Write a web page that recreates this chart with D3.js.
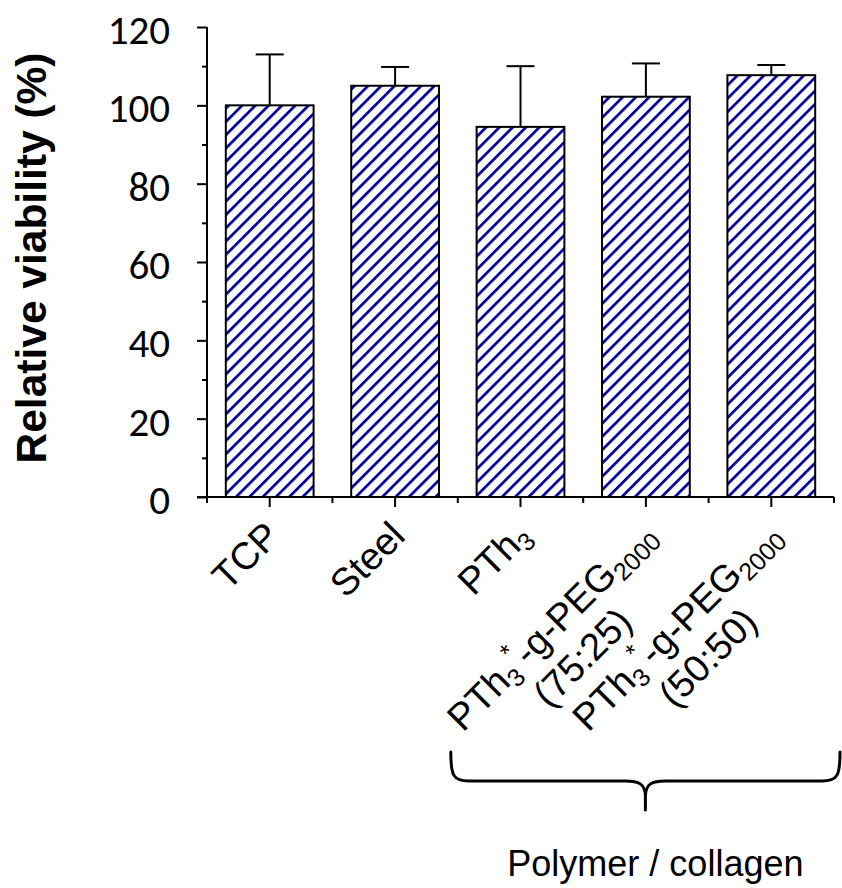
<!DOCTYPE html>
<html>
<head>
<meta charset="utf-8">
<script src="https://cdn.jsdelivr.net/npm/d3@7"></script>
<style>
  html, body { margin: 0; padding: 0; background: #fff; }
  svg { display: block; }
</style>
</head>
<body>
<div id="chart"></div>
<script>
// Cell viability on the different substrates (mean with upper SD bar)
const categories = ["TCP", "Steel", "PTh3", "PTh3-PEG 75:25", "PTh3-PEG 50:50"];
const viability = [100, 105, 94.5, 102.2, 107.7];
const errorUp = [13, 4.8, 15.5, 8.5, 2.6];
const yTicks = [0, 20, 40, 60, 80, 100, 120];
const yMinorTicks = [10, 30, 50, 70, 90, 110];
// Axis labels, line by line; each segment is [text, "n" | "sub" | "sup"]
const categoryLabels = [
  [[["TCP", "n"]]],
  [[["Steel", "n"]]],
  [[["PTh", "n"], ["3", "sub"]]],
  [[["PTh", "n"], ["3", "sub"], ["*", "sup"], ["-g-PEG", "n"], ["2000", "sub"]], [["(75:25)", "n"]]],
  [[["PTh", "n"], ["3", "sub"], ["*", "sup"], ["-g-PEG", "n"], ["2000", "sub"]], [["(50:50)", "n"]]]
];
const groupSpan = ["PTh3", "PTh3-PEG 50:50"];
const groupLabel = "Polymer / collagen";
const yTitle = "Relative viability (%)";

const W = 842, H = 888;
const svg = d3.select("#chart").append("svg").attr("width", W).attr("height", H);

const x = d3.scaleBand().domain(categories).range([207, 834])
  .paddingInner(0.3).paddingOuter(0.15);
const y = d3.scaleLinear().domain([0, 120]).range([497, 27]);

// diagonal hatch fill
const defs = svg.append("defs");
const pat = defs.append("pattern").attr("id", "hatch")
  .attr("patternUnits", "userSpaceOnUse")
  .attr("width", 9.4).attr("height", 20)
  .attr("patternTransform", "rotate(45)");
pat.append("rect").attr("width", 9.4).attr("height", 20).attr("fill", "#fff");
pat.append("rect").attr("x", 0).attr("width", 2.7).attr("height", 20).attr("fill", "#0000A0");

const ink = "#000";

// bars
svg.append("g").selectAll("rect").data(categories).join("rect")
  .attr("x", d => x(d))
  .attr("y", (d, i) => y(viability[i]))
  .attr("width", x.bandwidth())
  .attr("height", (d, i) => y(0) - y(viability[i]))
  .attr("fill", "url(#hatch)")
  .attr("stroke", ink).attr("stroke-width", 2);

// upper error bars
const eb = svg.append("g").attr("stroke", ink).attr("stroke-width", 2);
categories.forEach((c, i) => {
  const cx = x(c) + x.bandwidth() / 2;
  eb.append("line").attr("x1", cx).attr("x2", cx)
    .attr("y1", y(viability[i])).attr("y2", y(viability[i] + errorUp[i]));
  eb.append("line").attr("x1", cx - 14).attr("x2", cx + 14)
    .attr("y1", y(viability[i] + errorUp[i])).attr("y2", y(viability[i] + errorUp[i]));
});

// y axis
const ya = svg.append("g").attr("transform", "translate(207,0)");
ya.call(d3.axisLeft(y).tickValues(yTicks).tickSize(10).tickFormat(""));
const yam = svg.append("g").attr("transform", "translate(207,0)");
yam.call(d3.axisLeft(y).tickValues(yMinorTicks).tickSize(5).tickFormat(""));
yam.select(".domain").remove();
svg.selectAll(".tick line").attr("stroke", ink).attr("stroke-width", 2);
ya.select(".domain").attr("stroke", ink).attr("stroke-width", 2)
  .attr("d", `M0,${y(120)}V503`);

svg.append("g").selectAll("text").data(yTicks).join("text")
  .attr("x", 170).attr("y", d => y(d) + 17)
  .attr("text-anchor", "end")
  .attr("font-family", "Carlito, Calibri, Lato, sans-serif")
  .attr("font-size", 41).attr("fill", ink)
  .text(d => d);

// x axis
const step = x.step();
const x0 = x.range()[0];
const xa = svg.append("g").attr("stroke", ink).attr("stroke-width", 2);
xa.append("line").attr("x1", 197).attr("x2", 834).attr("y1", y(0)).attr("y2", y(0));
d3.range(categories.length + 1).forEach(i => {
  xa.append("line").attr("x1", x0 + i * step).attr("x2", x0 + i * step)
    .attr("y1", y(0)).attr("y2", y(0) + 6);
});
categories.forEach(c => {
  const cx = x(c) + x.bandwidth() / 2;
  xa.append("line").attr("x1", cx).attr("x2", cx).attr("y1", y(0)).attr("y2", y(0) + 10);
});

// rotated category labels
const labFont = "'Liberation Sans', Arial, sans-serif";
const FS = 38, SUB = 25;
function fillLine(text, segs) {
  let shift = 0;
  segs.forEach(([t, kind]) => {
    const target = kind === "sub" ? 7 : kind === "sup" ? -17 : 0;
    text.append("tspan")
      .attr("dy", target - shift)
      .attr("font-size", kind === "n" ? FS : SUB)
      .text(t);
    shift = target;
  });
  if (shift !== 0) text.append("tspan").attr("dy", -shift).text("\u200b");
}
categories.forEach((c, i) => {
  const cx = x(c) + x.bandwidth() / 2;
  const g = svg.append("g")
    .attr("transform", `translate(${cx + 12},${y(0) + 41}) rotate(-45)`)
    .attr("font-family", labFont).attr("fill", ink);
  const lines = categoryLabels[i];
  const t1 = g.append("text").attr("text-anchor", "end").attr("font-size", FS);
  fillLine(t1, lines[0]);
  if (lines.length > 1) {
    const L1 = t1.node().getComputedTextLength();
    const t2 = g.append("text").attr("text-anchor", "middle").attr("font-size", FS)
      .attr("x", -L1 / 2).attr("y", 44);
    fillLine(t2, lines[1]);
  }
});

// y axis title
svg.append("text")
  .attr("transform", "translate(46,258) rotate(-90)")
  .attr("text-anchor", "middle")
  .attr("font-family", labFont).attr("font-weight", "bold")
  .attr("font-size", 42.5).attr("fill", ink)
  .text(yTitle);

// brace grouping the polymer-coated substrates
const bx0 = x(groupSpan[0]) - (step - x.bandwidth()) / 2 - 7;
const bx1 = x(groupSpan[1]) + x.bandwidth() + (step - x.bandwidth()) / 2 + 6;
const bm = (bx0 + bx1) / 2;
const by = 781, btop = 752, btip = 810;
svg.append("path")
  .attr("d", `M${bx0},${btop} C${bx0},${by - 6} ${bx0 + 2},${by} ${bx0 + 18},${by}
    L${bm - 20},${by} C${bm - 6},${by} ${bm - 1},${by + 3} ${bm},${by + 14} L${bm},${btip}
    M${bm},${by + 14} C${bm + 1},${by + 3} ${bm + 6},${by} ${bm + 20},${by}
    L${bx1 - 18},${by} C${bx1 - 2},${by} ${bx1},${by - 6} ${bx1},${btop}`)
  .attr("fill", "none").attr("stroke", ink).attr("stroke-width", 3)
  .attr("stroke-linecap", "round");

svg.append("text")
  .attr("x", bm + 10).attr("y", 876)
  .attr("text-anchor", "middle")
  .attr("font-family", labFont).attr("font-size", 36).attr("fill", ink)
  .text(groupLabel);
</script>
</body>
</html>
